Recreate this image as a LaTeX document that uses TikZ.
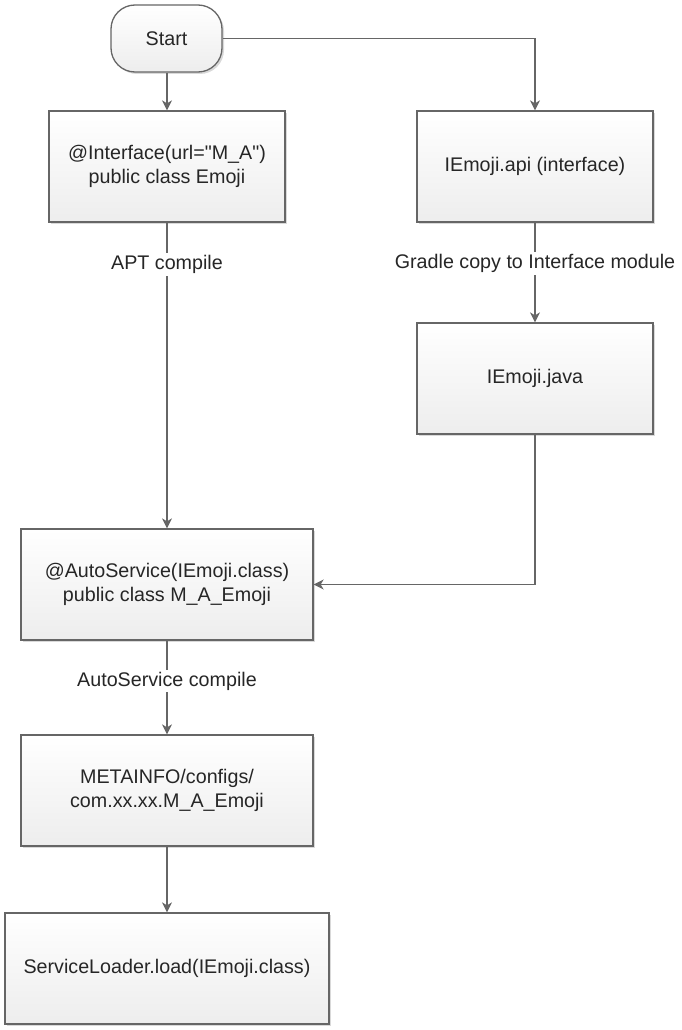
\documentclass[tikz,border=0pt]{standalone}
\usepackage{fontspec}
\setmainfont{Liberation Sans}[Ligatures=TeXOff]
\usetikzlibrary{arrows.meta,shadows,positioning}
\begin{document}
\begin{tikzpicture}[x=1pt,y=-1pt,
  box/.style={draw=black!60, line width=1.3pt, top color=white, bottom color=black!7,
    drop shadow={shadow xshift=2pt, shadow yshift=-2pt, opacity=0.25, fill=black!60},
    align=center, inner sep=0pt, font=\fontsize{19.7}{24}\selectfont, text=black!85},
  conn/.style={draw=black!60, line width=1.3pt, -{Stealth[length=10pt,width=10pt,inset=3pt]}},
  lbl/.style={fill=white, inner sep=2pt, font=\fontsize{19.7}{24}\selectfont, text=black!85}
]
\useasboundingbox (0,0) rectangle (682,1030);
\node[box, rounded corners=24pt, minimum width=111pt, minimum height=67pt] (start) at (166.5,38.5) {Start};
\node[box, minimum width=236pt, minimum height=111pt] (b1) at (167,166.5) {@Interface(url="M\_A")\\public class Emoji};
\node[box, minimum width=236pt, minimum height=111pt] (b2) at (535,166.5) {IEmoji.api (interface)};
\node[box, minimum width=236pt, minimum height=111pt] (b3) at (535,378.5) {IEmoji.java};
\node[box, minimum width=292pt, minimum height=111pt] (b4) at (167,584.5) {@AutoService(IEmoji.class)\\public class M\_A\_Emoji};
\node[box, minimum width=292pt, minimum height=111pt] (b5) at (167,790.5) {METAINFO/configs/\\com.xx.xx.M\_A\_Emoji};
\node[box, minimum width=324pt, minimum height=111pt] (b6) at (167,968.5) {ServiceLoader.load(IEmoji.class)};

\draw[conn] (start.south -| b1.north) -- (b1.north);
\draw[conn] (start.east) -| (b2.north);
\draw[conn] (b1.south) -- node[lbl, pos=0.137] {APT compile} (b4.north);
\draw[conn] (b2.south) -- node[lbl, pos=0.41] {Gradle copy to Interface module} (b3.north);
\draw[conn] (b3.south) |- (b4.east);
\draw[conn] (b4.south) -- node[lbl, pos=0.43] {AutoService compile} (b5.north);
\draw[conn] (b5.south) -- (b6.north);
\end{tikzpicture}
\end{document}
